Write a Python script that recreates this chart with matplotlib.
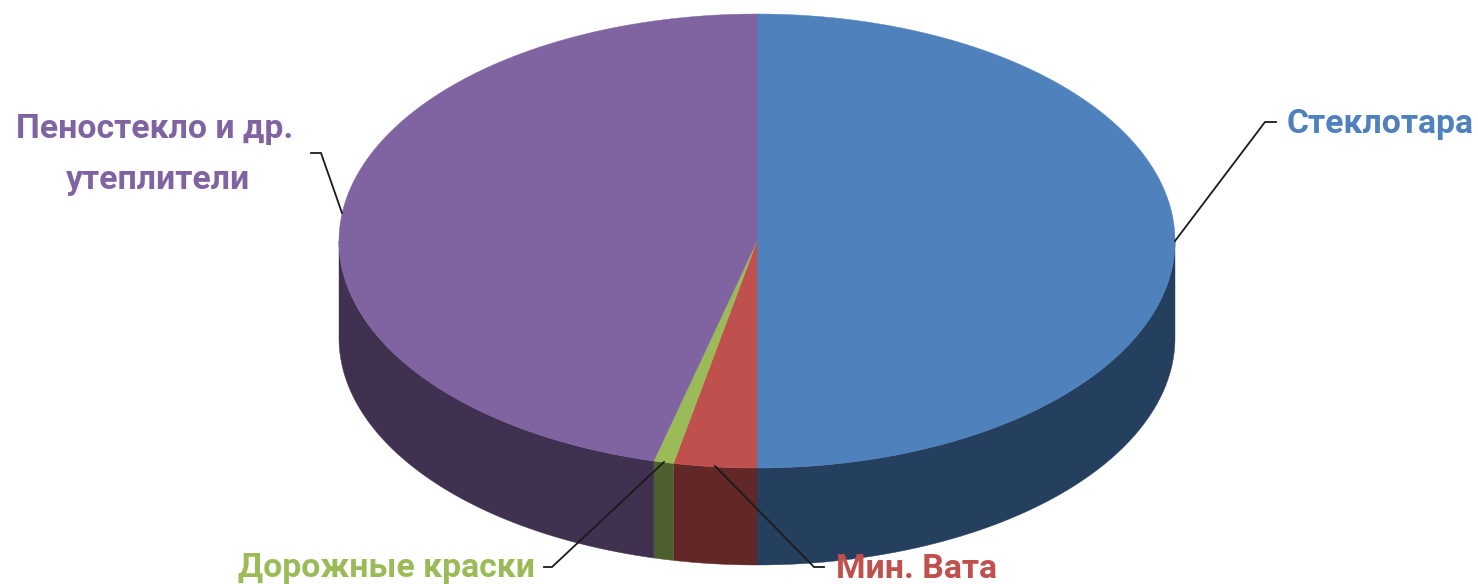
import numpy as np
import matplotlib
matplotlib.use('Agg')
import matplotlib.pyplot as plt

plt.rcParams['font.family'] = ['Roboto', 'DejaVu Sans']

# shares in percent, clockwise from 12 o'clock
labels = ['Стеклотара', 'Мин. Вата', 'Дорожные краски', 'Пеностекло и др.', 'утеплители']
shares = [50.0, 3.2, 0.77, 46.03]
top_colors = ['#4f81bd', '#c0504d', '#9bbb59', '#8064a2']
side_colors = ['#253f5f', '#622828', '#4e5f2e', '#413150']

# the tilted disc, in pixels of the figure
cx, cy = 757, 241
rx, ry = 418, 227
depth = 97


def rim(t):
    return cx + rx * np.sin(t), cy - ry * np.cos(t)


figure, axes = plt.subplots(figsize=(14.78, 5.84), dpi=100)
figure.subplots_adjust(0, 0, 1, 1)
axes.set_xlim(0, 1478)
axes.set_ylim(584, 0)
axes.axis('off')

edges = np.radians(np.cumsum([0] + shares) * 3.6)

for i in range(len(shares)):
    t0, t1 = edges[i], edges[i + 1]

    # wall, only the front half of the disc shows it
    a, b = max(t0, np.pi / 2), min(t1, 3 * np.pi / 2)
    if a < b:
        ts = np.linspace(a, b, 200)
        x, y = rim(ts)
        axes.fill(np.r_[x, x[::-1]], np.r_[y, y[::-1] + depth],
                  color=side_colors[i], lw=0.3, zorder=1)

    ts = np.linspace(t0, t1, 300)
    x, y = rim(ts)
    axes.fill(np.r_[cx, x], np.r_[cy, y], color=top_colors[i], lw=0.3, zorder=2)

# leader lines
leaders = [
    [(1175, 241), (1265, 122), (1276, 122)],
    [(715, 466), (814, 567), (824, 567)],
    [(664, 462), (552, 567), (544, 567)],
    [(342, 213), (321, 153), (311, 153)],
]
for leader in leaders:
    xs, ys = zip(*leader)
    axes.plot(xs, ys, color='#1a1a1a', lw=1.3, zorder=3, solid_joinstyle='miter')

label_style = dict(fontsize=24.3, fontweight='bold', va='center', ha='center', zorder=4)
axes.text(1380.5, 124.5, labels[0], color=top_colors[0], **label_style)
axes.text(916, 568.5, labels[1], color=top_colors[1], **label_style)
axes.text(386.5, 568.5, labels[2], color=top_colors[2], **label_style)
axes.text(154.5, 129, labels[3], color=top_colors[3], **label_style)
axes.text(157.5, 180, labels[4], color=top_colors[3], **label_style)

figure.savefig('out.png', dpi=100)
